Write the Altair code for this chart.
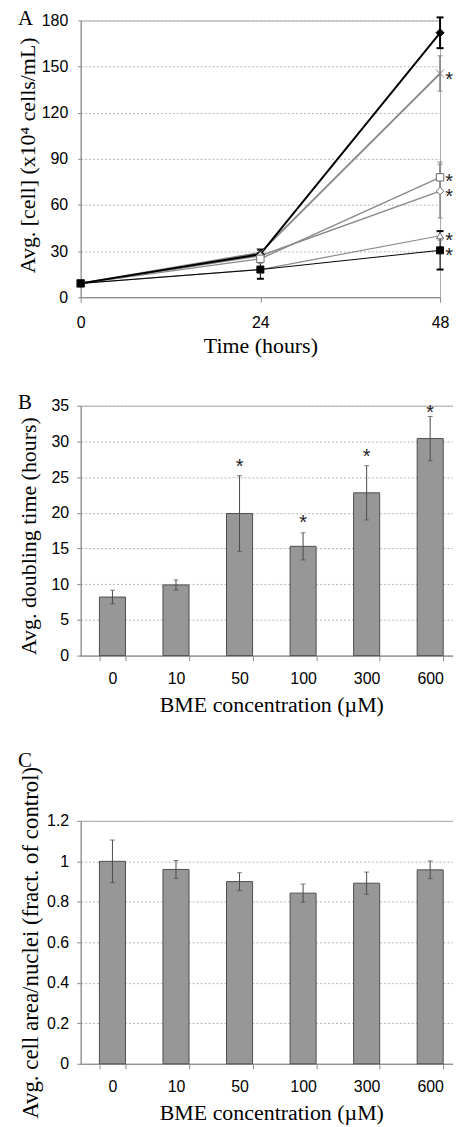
import altair as alt
import pandas as pd

# ---------------- Panel A data ----------------
time_hours = [0, 24, 48]
series_labels = ["0 µM", "10 µM", "50 µM", "100 µM", "300 µM", "600 µM"]
cells_0 = [9, 28, 172]
cells_10 = [9, 29, 145.5]
cells_50 = [9, 27, 69]
cells_100 = [9, 25, 78]
cells_300 = [9, 18, 40]
cells_600 = [9, 18, 30.5]
err_0 = [0, 3, 10]
err_10 = [0, 2, 11.5]
err_50 = [0, 2, 17.5]
err_100 = [0, 3, 10]
err_300 = [0, 2, 3]
err_600 = [0, 6, 12.5]
sig_series_a = ["10 µM", "50 µM", "100 µM", "300 µM", "600 µM"]
sig_time_a = [48, 48, 48, 48, 48]
sig_y_a = [144.7, 68.9, 78.6, 39.8, 30.4]
black_series = ["0 µM", "600 µM"]
gray_series = ["10 µM", "50 µM", "100 µM", "300 µM"]

# ---------------- Panel B data ----------------
conc_labels = ["0", "10", "50", "100", "300", "600"]
doubling_mean = [8.2, 9.9, 19.9, 15.3, 22.8, 30.4]
doubling_err = [0.95, 0.7, 5.3, 1.9, 3.8, 3.1]
sig_conc_b = ["50", "100", "300", "600"]
sig_y_b = [27.1, 19.3, 28.5, 34.7]

# ---------------- Panel C data ----------------
area_mean = [1.0, 0.96, 0.90, 0.843, 0.892, 0.958]
area_err = [0.105, 0.044, 0.044, 0.045, 0.055, 0.044]

SANS = "Liberation Sans"
SERIF = "Liberation Serif"
GRID = "#b5b5b5"
AXIS = "#888888"

rows = []
for lab, vals, errs in zip(series_labels,
                           [cells_0, cells_10, cells_50, cells_100, cells_300, cells_600],
                           [err_0, err_10, err_50, err_100, err_300, err_600]):
    for t, v, e in zip(time_hours, vals, errs):
        rows.append({"series": lab, "time": t, "cells": v, "lo": v - e, "hi": v + e, "err": e})
df_a = pd.DataFrame(rows)
df_sig_a = pd.DataFrame({"series": sig_series_a, "time": sig_time_a, "y": sig_y_a})

line_color = alt.Scale(domain=series_labels,
                       range=["black", "#8a8a8a", "#8a8a8a", "#8a8a8a", "#8a8a8a", "black"])
line_width = alt.Scale(domain=series_labels, range=[2, 1, 1, 1, 1, 2])
shape_scale = alt.Scale(domain=series_labels,
                        range=["diamond", "M-1,-1L1,1M-1,1L1,-1", "diamond", "square",
                               "triangle-up", "square"])
fill_scale = alt.Scale(domain=series_labels,
                       range=["black", "transparent", "white", "white", "white", "black"])
stroke_scale = alt.Scale(domain=series_labels,
                         range=["black", "#7a7a7a", "#6a6a6a", "#6a6a6a", "#6a6a6a", "black"])
size_scale = alt.Scale(domain=series_labels, range=[64, 49, 64, 49, 50, 49])

x_scale_a = alt.Scale(domain=[0, 48], nice=False)
y_scale_a = alt.Scale(domain=[0, 180], nice=False)
x_axis_a = alt.Axis(values=time_hours, title="Time (hours)", grid=False,
                    tickSize=5, labelPadding=12, titlePadding=6, labelFlush=False)
y_axis_a = alt.Axis(values=list(range(0, 181, 30)), title="Avg. [cell] (x10⁴ cells/mL)",
                    tickSize=3, labelPadding=10, titlePadding=2, labelFlush=False,
                    labelOverlap=False, titleY=135,
                    grid=True, gridDash=[2, 2], gridColor=GRID)


def xa():
    return alt.X("time:Q", scale=x_scale_a, axis=x_axis_a)


def ya(field):
    return alt.Y(field, scale=y_scale_a, axis=y_axis_a)


base_a = alt.Chart(df_a)
col_enc = alt.Color("series:N", scale=line_color, legend=None)
sw_enc = alt.StrokeWidth("series:N", scale=line_width, legend=None)


def filt(ch, names):
    return ch.transform_filter(alt.FieldOneOfPredicate(field="series", oneOf=names))


lines_gray = filt(base_a, gray_series).mark_line().encode(
    x=xa(), y=ya("cells:Q"), color=col_enc, strokeWidth=sw_enc, detail="series:N")
lines_black = filt(base_a, black_series).mark_line().encode(
    x=xa(), y=ya("cells:Q"), color=col_enc, strokeWidth=sw_enc, detail="series:N")

err_rules = base_a.transform_filter("datum.err > 0").mark_rule().encode(
    x=xa(), y=ya("lo:Q"), y2="hi:Q", color=col_enc, strokeWidth=sw_enc)


def caps(names, half, width):
    c = filt(base_a.transform_filter("datum.err > 0"), names).transform_fold(
        ["lo", "hi"], as_=["k", "v"])
    return c.mark_rule(xOffset=-half, x2Offset=half, strokeWidth=width).encode(
        x=xa(), x2="time:Q", y=ya("v:Q"), color=col_enc)


caps_gray = caps(gray_series, 2.5, 1)
caps_black = caps(black_series, 3.5, 2)

points = base_a.mark_point(filled=True, opacity=1, strokeWidth=1).encode(
    x=xa(), y=ya("cells:Q"),
    shape=alt.Shape("series:N", scale=shape_scale, legend=None),
    fill=alt.Fill("series:N", scale=fill_scale, legend=None),
    stroke=alt.Stroke("series:N", scale=stroke_scale, legend=None),
    size=alt.Size("series:N", scale=size_scale, legend=None))

stars_a = alt.Chart(df_sig_a).mark_text(text="*", font=SANS, fontSize=20, color="#222",
                                        baseline="middle", align="center", dx=9, dy=5.4).encode(
    x=xa(), y=ya("y:Q"))


def panel_title(letter, offset):
    return alt.TitleParams(text=letter, anchor="start", frame="group", orient="top",
                           offset=offset, dx=-63, fontSize=21, font=SERIF,
                           fontWeight="normal", baseline="alphabetic", color="black")


chart_a = alt.layer(lines_gray, lines_black, err_rules, caps_gray, caps_black, points,
                    stars_a).properties(width=361, height=278, title=panel_title("A", -34))


# ---------------- Panels B and C ----------------
def bar_panel(df, df_sig, ytitle, ytitle_size, ydomain, yvalues, yfmt, titlepad, title_y,
              letter, letter_off, height):
    x_scale = alt.Scale(domain=conc_labels, paddingInner=0.59, paddingOuter=0.295)
    x_axis = alt.Axis(title="BME concentration (µM)", labelAngle=0, tickBand="extent",
                      tickSize=5, labelPadding=10, titlePadding=8, grid=False)
    y_scale = alt.Scale(domain=ydomain, nice=False)
    y_kw = dict(values=yvalues, title=ytitle, format=yfmt, tickSize=4,
                labelPadding=8, titlePadding=titlepad, labelFlush=False,
                labelOverlap=False, titleFontSize=ytitle_size,
                grid=True, gridDash=[2, 2], gridColor=GRID)
    if title_y is not None:
        y_kw["titleY"] = title_y
    y_axis = alt.Axis(**y_kw)

    def xe():
        return alt.X("conc:N", sort=conc_labels, scale=x_scale, axis=x_axis)

    def ye(field):
        return alt.Y(field, scale=y_scale, axis=y_axis)

    base = alt.Chart(df)
    bars = base.mark_bar(fill="#979797", stroke="#4f4f4f", strokeWidth=1).encode(
        x=xe(), y=ye("val:Q"))
    rules = base.mark_rule(color="#4a4a4a", strokeWidth=1).encode(
        x=xe(), y=ye("lo:Q"), y2="hi:Q")
    cap_lo = base.mark_tick(orient="horizontal", size=5, thickness=1, color="#4a4a4a").encode(
        x=xe(), y=ye("lo:Q"))
    cap_hi = base.mark_tick(orient="horizontal", size=5, thickness=1, color="#4a4a4a").encode(
        x=xe(), y=ye("hi:Q"))
    layers = [bars, rules, cap_lo, cap_hi]
    if df_sig is not None:
        layers.append(alt.Chart(df_sig).mark_text(text="*", font=SANS, fontSize=20, color="#222",
                                                  baseline="middle", align="center",
                                                  dy=5.4).encode(x=xe(), y=ye("y:Q")))
    return alt.layer(*layers).properties(width=383, height=height,
                                         title=panel_title(letter, letter_off))


df_b = pd.DataFrame({"conc": conc_labels, "val": doubling_mean,
                     "lo": [m - e for m, e in zip(doubling_mean, doubling_err)],
                     "hi": [m + e for m, e in zip(doubling_mean, doubling_err)]})
df_sig_b = pd.DataFrame({"conc": sig_conc_b, "y": sig_y_b})
chart_b = bar_panel(df_b, df_sig_b, "Avg. doubling time (hours)", 22, [0, 35],
                    list(range(0, 36, 5)), "d", 10.4, 130.5, "B", -32, 251)

df_c = pd.DataFrame({"conc": conc_labels, "val": area_mean,
                     "lo": [m - e for m, e in zip(area_mean, area_err)],
                     "hi": [m + e for m, e in zip(area_mean, area_err)]})
chart_c = bar_panel(df_c, None, "Avg. cell area/nuclei (fract. of control)", 23, [0, 1.2],
                    [0, 0.2, 0.4, 0.6, 0.8, 1.0, 1.2], "~g", 4.2, None, "C", -22, 244)

chart = alt.vconcat(chart_a, chart_b, chart_c, spacing=33).properties(
    padding={"left": 7, "top": -3, "right": -10, "bottom": 0}, background="white"
).configure_view(stroke="#a8a8a8", strokeWidth=1).configure_axis(
    labelFont=SANS, labelFontSize=16, labelColor="black",
    titleFont=SERIF, titleFontSize=22, titleFontWeight="normal", titleColor="black",
    domainColor=AXIS, tickColor=AXIS, domainWidth=1, tickWidth=1)

chart.save("out.html", embed_options={"renderer": "svg", "actions": False})
